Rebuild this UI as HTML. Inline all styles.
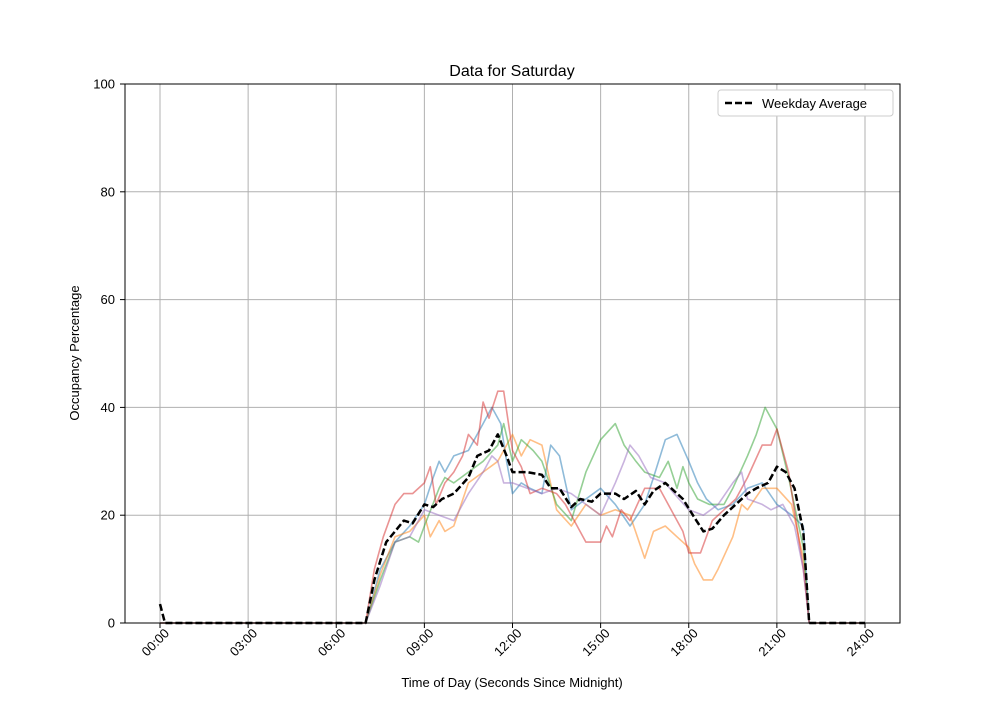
<!DOCTYPE html>
<html><head><meta charset="utf-8"><style>
body{margin:0;background:#fff}
text{font-family:"Liberation Sans","DejaVu Sans",sans-serif;font-size:13px;fill:#000}
</style></head><body>
<svg id="s" width="1000" height="700" viewBox="0 0 1000 700" xmlns="http://www.w3.org/2000/svg">
<rect width="1000" height="700" fill="#fff"/>
<g id="grid" stroke="#b0b0b0" stroke-width="1"></g>
<g id="series" fill="none" stroke-width="1.6" stroke-linejoin="round"></g>
<rect x="125" y="84" width="775" height="539" fill="none" stroke="#000" stroke-width="1"/>
<g id="ticks"></g>
<text x="512" y="76" text-anchor="middle" style="font-size:16px">Data for Saturday</text>
<text x="512" y="687" text-anchor="middle">Time of Day (Seconds Since Midnight)</text>
<text transform="translate(79,353) rotate(-90)" text-anchor="middle">Occupancy Percentage</text>
<rect x="718" y="90" width="175" height="26" rx="3" fill="#fff" stroke="#ccc"/>
<line x1="725" y1="103" x2="753" y2="103" stroke="#000" stroke-width="2.5" stroke-dasharray="7,3"/>
<text x="762" y="108">Weekday Average</text>
</svg>
<script>
const NS="http://www.w3.org/2000/svg";
const X=h=>160+h*29.375, Y=v=>623-v*5.39;
function el(p,t,a,txt){const e=document.createElementNS(NS,t);for(const k in a)e.setAttribute(k,a[k]);if(txt)e.textContent=txt;document.getElementById(p).appendChild(e);return e;}
for(let h=0;h<=24;h+=3){const x=X(h);el('grid','line',{x1:x,y1:84,x2:x,y2:623});
el('ticks','line',{x1:x,y1:623,x2:x,y2:628,stroke:'#000'});
const lab=String(h).padStart(2,'0')+':00';
el('ticks','text',{transform:`translate(${x+10},${634}) rotate(-45)`,'text-anchor':'end'},lab);}
for(let v=0;v<=100;v+=20){const y=Y(v);el('grid','line',{x1:125,y1:y,x2:900,y2:y});
el('ticks','line',{x1:120,y1:y,x2:125,y2:y,stroke:'#000'});
el('ticks','text',{x:115,y:y+4.5,'text-anchor':'end'},String(v));}
const S={
'#1f77b4':[7,0,7.5,10,8,15,8.5,18,9,22,9.3,27,9.5,30,9.7,28,10,31,10.5,32,11,37,11.3,40,11.6,37,11.8,30,12,24,12.3,26,12.6,25,13,24,13.3,33,13.6,31,14,21,14.5,23,15,25,15.5,22,16,18,16.5,22,16.8,27,17.2,34,17.6,35,18,30,18.3,26,18.6,23,19,21,19.5,22,20,25,20.5,26,21,22,21.5,20,21.9,18,22.1,0],
'#ff7f0e':[7,0,7.5,9,8,16,8.5,17,9,20,9.2,16,9.5,19,9.7,17,10,18,10.5,26,11,28,11.5,30,11.8,33,12,35,12.3,31,12.6,34,13,33,13.5,21,14,18,14.5,22,15,20,15.5,21,16,20,16.5,12,16.8,17,17.2,18,17.6,16,18,14,18.2,11,18.5,8,18.8,8,19,10,19.5,16,19.8,22,20,21,20.5,25,21,25,21.5,22,21.9,12,22.1,0],
'#2ca02c':[7,0,7.5,8,8,15,8.5,16,8.8,15,9,18,9.5,25,9.7,27,10,26,10.5,28,11,30,11.5,33,11.7,37,12,30,12.3,34,12.7,32,13,30,13.5,22,14,19,14.5,28,15,34,15.5,37,15.8,33,16.2,30,16.5,28,17,27,17.3,30,17.6,25,17.8,29,18,26,18.3,23,18.7,22,19.2,22,19.5,25,20,31,20.3,35,20.6,40,21,36,21.4,27,21.9,14,22.1,0],
'#d62728':[7,0,7.3,10,7.6,16,8,22,8.3,24,8.6,24,9,26,9.2,29,9.4,22,9.7,26,10,28,10.3,31,10.5,35,10.8,33,11,41,11.2,38,11.5,43,11.7,43,12,32,12.3,29,12.6,24,13,25,13.5,24,13.8,22,14,20,14.5,15,15,15,15.2,18,15.4,16,15.7,21,16,19,16.5,25,17,25,17.5,20,17.8,17,18,13,18.4,13,18.8,19,19.2,21,19.6,23,20,27,20.5,33,20.8,33,21,36,21.4,28,21.9,10,22.1,0],
'#9467bd':[7,0,7.5,7,8,15,8.5,16,9,21,9.5,20,10,19,10.5,24,11,28,11.3,31,11.5,30,11.7,26,12,26,12.5,25,13,24,13.5,25,14,24,14.5,22,15,20,15.5,26,15.8,30,16,33,16.3,31,16.7,27,17.2,26,17.5,24,18,21,18.5,20,19,22,19.5,26,19.8,28,20,23,20.5,22,20.8,21,21.2,22,21.6,18,21.9,10,22.1,0]};
function pts(a,pre,post){let p=[];if(pre)p.push([0,0]);for(let i=0;i<a.length;i+=2)p.push([a[i],a[i+1]]);if(post)p.push([24,0]);return p.map(q=>X(q[0]).toFixed(1)+','+Y(q[1]).toFixed(1)).join(' ');}
for(const c in S)el('series','polyline',{points:pts(S[c],1,1),stroke:c,'stroke-opacity':0.5});
const A=[0,3.5,0.17,0,7,0,7.3,8,7.7,15,8,17,8.3,19,8.6,18.5,9,22,9.3,21.5,9.6,23,10,24,10.5,27,10.8,31,11.2,32,11.5,35,11.8,31,12,28,12.5,28,13,27.5,13.3,25,13.6,25,14,21.5,14.3,23,14.7,22.5,15,24,15.5,24,15.8,23,16.2,24.5,16.5,22,16.8,24.5,17.2,26,17.5,24.5,17.8,23,18.2,19.5,18.5,17,18.8,17.5,19.2,20,19.6,22,20,24,20.3,25,20.7,26,21,29,21.3,28,21.6,25,21.9,17,22.1,0,24,0];
el('series','polyline',{points:pts(A,0,0),stroke:'#000','stroke-width':2.5,'stroke-dasharray':'7,3'});
</script>
</body></html>
